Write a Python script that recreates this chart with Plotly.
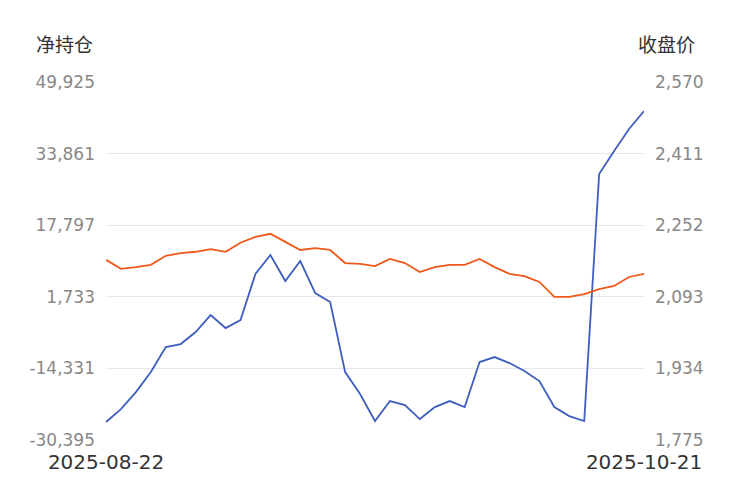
import plotly.graph_objects as go
import pandas as pd

dates = pd.to_datetime([
    "2025-08-22", "2025-08-25", "2025-08-26", "2025-08-27", "2025-08-28", "2025-08-29",
    "2025-09-01", "2025-09-02", "2025-09-03", "2025-09-04", "2025-09-05",
    "2025-09-08", "2025-09-09", "2025-09-10", "2025-09-11", "2025-09-12",
    "2025-09-15", "2025-09-16", "2025-09-17", "2025-09-18", "2025-09-19",
    "2025-09-22", "2025-09-23", "2025-09-24", "2025-09-25", "2025-09-26",
    "2025-09-29", "2025-09-30", "2025-10-09", "2025-10-10",
    "2025-10-13", "2025-10-14", "2025-10-15", "2025-10-16", "2025-10-17",
    "2025-10-20", "2025-10-21",
])
net_position = [
    -26371, -23454, -19639, -15151, -9541, -8868, -6175, -2360, -5277, -3482,
    6840, 11104, 5270, 9757, 2576, 556, -15151, -20088, -26146, -21658,
    -22555, -25697, -23004, -21658, -23004, -12907, -11785, -13131, -14926, -17170,
    -23004, -25024, -26146, 29280, 34441, 39378, 43417,
]
close_price = [
    2175, 2155, 2159, 2164, 2184, 2190, 2193, 2199, 2193, 2213,
    2226, 2233, 2215, 2197, 2201, 2197, 2168, 2166, 2161, 2177,
    2168, 2148, 2159, 2164, 2164, 2177, 2159, 2144, 2139, 2126,
    2093, 2093, 2099, 2110, 2117, 2137, 2144,
]
left_ticks = [-30395, -14331, 1733, 17797, 33861, 49925]
right_ticks = [1775, 1934, 2093, 2252, 2411, 2570]

x = list(range(len(dates)))
labels = [d.strftime("%Y-%m-%d") for d in dates]

fig = go.Figure()
fig.add_trace(go.Scatter(x=x, y=net_position, mode="lines",
                         line=dict(color="#3f5fbf", width=1.8), yaxis="y"))
fig.add_trace(go.Scatter(x=x, y=close_price, mode="lines",
                         line=dict(color="#f0581a", width=1.8), yaxis="y2"))

tick_font = dict(family="DejaVu Sans", size=17, color="#888888")
fig.update_layout(
    width=735, height=500,
    margin=dict(l=98, r=99, t=74, b=68),
    plot_bgcolor="white", paper_bgcolor="white",
    showlegend=False,
    xaxis=dict(range=[0, len(x) - 1], tickvals=[0, len(x) - 1],
               ticktext=[labels[0], labels[-1]], showgrid=False, zeroline=False,
               tickfont=dict(family="DejaVu Sans", size=20, color="#333333"),
               ticklabelstandoff=8),
    yaxis=dict(range=[left_ticks[0], left_ticks[-1]], tickvals=left_ticks,
               ticktext=[f"{v:,}" for v in left_ticks], tickfont=tick_font,
               gridcolor="#e6e8f0", zeroline=False, ticklabelstandoff=10),
    yaxis2=dict(range=[right_ticks[0], right_ticks[-1]], tickvals=right_ticks,
                ticktext=[f"{v:,}" for v in right_ticks], tickfont=tick_font,
                overlaying="y", side="right", showgrid=False, zeroline=False,
                ticklabelstandoff=10),
    annotations=[
        dict(text="净持仓", xref="paper", yref="paper", x=-0.134, y=1.065,
             xanchor="left", yanchor="bottom", showarrow=False,
             font=dict(family="Noto Sans CJK SC", size=19, color="#333333")),
        dict(text="收盘价", xref="paper", yref="paper", x=1.098, y=1.065,
             xanchor="right", yanchor="bottom", showarrow=False,
             font=dict(family="Noto Sans CJK SC", size=19, color="#333333")),
    ],
)
fig.write_html("out.html")
